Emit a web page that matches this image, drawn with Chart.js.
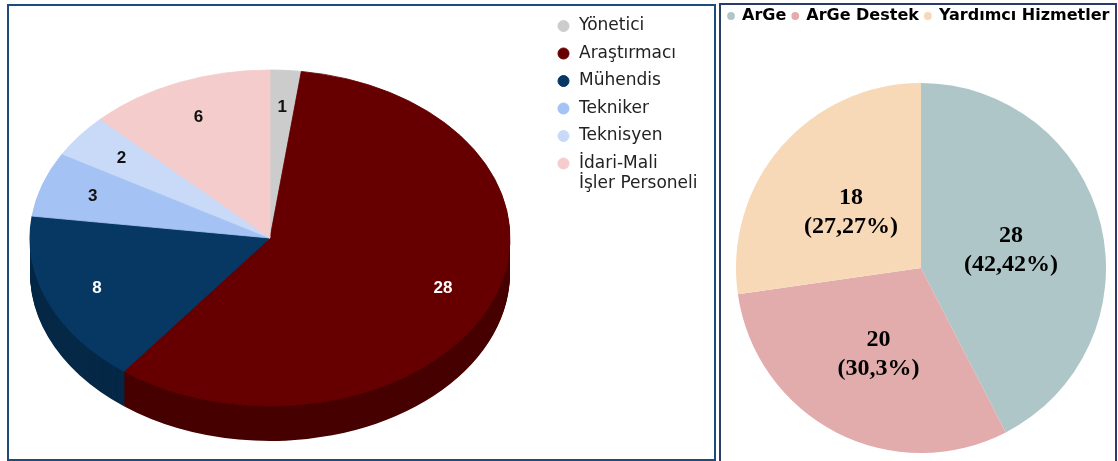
<!DOCTYPE html>
<html>
<head>
<meta charset="utf-8">
<script src="https://cdn.jsdelivr.net/npm/chart.js@4.4.1/dist/chart.umd.min.js"></script>
<style>
    html, body { margin: 0; padding: 0; background: #fff; overflow: hidden; width: 1118px; height: 461px; }
    .box { position: absolute; box-sizing: border-box; border: 2px solid #1d4b7c; }
    canvas { position: absolute; }
</style>
</head>
<body>
<div class="box" style="left:7px;top:4px;width:709px;height:457px;"></div>
<div class="box" style="left:719px;top:3px;width:398px;height:462px;border-color:#2a3d68;"></div>
<canvas id="personel" width="702" height="462" style="left:-6px;top:7px;width:702px;height:462px;"></canvas>
<canvas id="birim" width="398" height="500" style="left:722px;top:2px;width:398px;height:500px;"></canvas>

<script>
    // left chart: staff by title
    var personelLabels = ["Yönetici", "Araştırmacı", "Mühendis", "Tekniker", "Teknisyen", ["İdari-Mali", "İşler Personeli"]];
    var personelValues = [1, 28, 8, 3, 2, 6];
    var personelColors = ["#cccccc", "#660000", "#073763", "#a4c2f4", "#c9daf8", "#f4cccc"];
    var personelSides = ["#9a9a9a", "#470000", "#052846", "#7890b8", "#97a6c0", "#b89a9a"];
    var personelText = ["#111", "#fff", "#fff", "#111", "#111", "#111"];

    // right chart: staff by unit
    var birimLabels = ["ArGe", "ArGe Destek", "Yardımcı Hizmetler"];
    var birimValues = [28, 20, 18];
    var birimColors = ["#aec6c8", "#e2abac", "#f7d9b8"];

    var TILT = 0.7;   // vertical squash of the 3d pie
    var DEPTH = 35;   // height of the side wall

    var pie3d = {
        id: "pie3d",
        beforeDatasetsDraw: function (chart) {
            var ctx = chart.ctx;
            var arcs = chart.getDatasetMeta(0).data;
            var cx = arcs[0].x, cy = arcs[0].y;
            // side wall: same slices stacked downward in darker colours
            for (var d = DEPTH; d > 0; d--) {
                arcs.forEach(function (a, i) {
                    ctx.save();
                    ctx.translate(cx, cy + d);
                    ctx.scale(1, TILT);
                    ctx.beginPath();
                    ctx.moveTo(0, 0);
                    ctx.arc(0, 0, a.outerRadius, a.startAngle, a.endAngle);
                    ctx.closePath();
                    ctx.fillStyle = personelSides[i];
                    ctx.fill();
                    ctx.restore();
                });
            }
            // top face is drawn by chart.js under this transform
            ctx.save();
            ctx.translate(cx, cy);
            ctx.scale(1, TILT);
            ctx.translate(-cx, -cy);
        },
        afterDatasetsDraw: function (chart) {
            var ctx = chart.ctx;
            ctx.restore();
            var arcs = chart.getDatasetMeta(0).data;
            ctx.save();
            ctx.font = "bold 17px 'Liberation Sans', Arial, sans-serif";
            ctx.textAlign = "center";
            ctx.textBaseline = "middle";
            arcs.forEach(function (a, i) {
                var mid = (a.startAngle + a.endAngle) / 2;
                var r = a.outerRadius * 0.78;
                ctx.fillStyle = personelText[i];
                ctx.fillText(String(personelValues[i]), a.x + r * Math.cos(mid), a.y + r * Math.sin(mid) * TILT);
            });
            ctx.restore();
        }
    };

    var pctLabels = {
        id: "pctLabels",
        afterDatasetsDraw: function (chart) {
            var ctx = chart.ctx;
            var arcs = chart.getDatasetMeta(0).data;
            var total = birimValues.reduce(function (s, v) { return s + v; }, 0);
            ctx.save();
            ctx.font = "bold 24px 'Liberation Serif', 'Times New Roman', serif";
            ctx.fillStyle = "#000";
            ctx.textAlign = "center";
            ctx.textBaseline = "middle";
            arcs.forEach(function (a, i) {
                var p = a.tooltipPosition();
                var pct = String(Math.round(birimValues[i] / total * 10000) / 100).replace(".", ",");
                ctx.fillText(String(birimValues[i]), p.x, p.y - 10);
                ctx.fillText("(" + pct + "%)", p.x, p.y + 19);
            });
            ctx.restore();
        }
    };

    new Chart("personel", {
        type: "pie",
        data: {
            labels: personelLabels,
            datasets: [{
                data: personelValues,
                backgroundColor: personelColors,
                borderColor: personelColors,
                borderWidth: 1,
                clip: false
            }]
        },
        options: {
            responsive: false,
            animation: false,
            radius: 240,
            layout: { padding: 0 },
            plugins: {
                tooltip: { enabled: false },
                legend: {
                    position: "right",
                    align: "start",
                    maxWidth: 150,
                    labels: {
                        usePointStyle: true,
                        pointStyle: "circle",
                        boxWidth: 14,
                        boxHeight: 7.8,
                        padding: 10.5,
                        color: "#222",
                        font: { family: "'DejaVu Sans', Verdana, sans-serif", size: 17, lineHeight: 1.18 }
                    }
                }
            }
        },
        plugins: [pie3d]
    });

    new Chart("birim", {
        type: "pie",
        data: {
            labels: birimLabels,
            datasets: [{
                data: birimValues,
                backgroundColor: birimColors,
                borderWidth: 0
            }]
        },
        options: {
            responsive: false,
            animation: false,
            radius: 185,
            layout: { padding: 0 },
            plugins: {
                tooltip: { enabled: false },
                legend: {
                    position: "top",
                    align: "start",
                    labels: {
                        usePointStyle: true,
                        pointStyle: "circle",
                        boxWidth: 6,
                        boxHeight: 5.5,
                        padding: 6,
                        color: "#000",
                        font: { family: "'DejaVu Sans', Verdana, sans-serif", size: 16, weight: "bold" }
                    }
                }
            }
        },
        plugins: [pctLabels]
    });
</script>
</body>
</html>
